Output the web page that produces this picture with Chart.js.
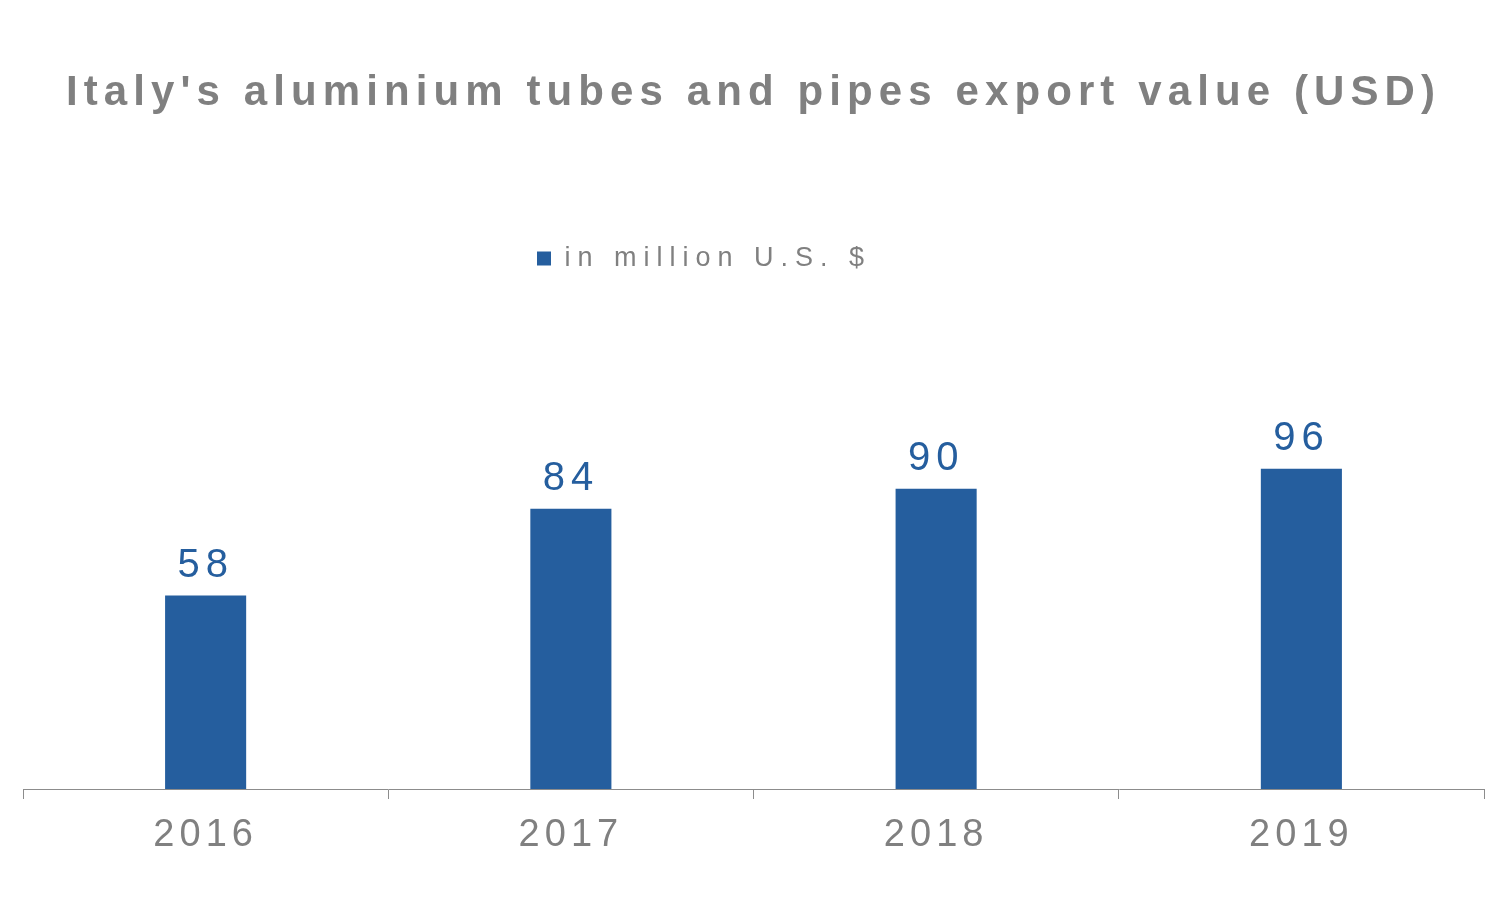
<!DOCTYPE html>
<html>
<head>
<meta charset="utf-8">
<title>Italy aluminium tubes and pipes export value</title>
<script src="https://cdn.jsdelivr.net/npm/chart.js@4/dist/chart.umd.min.js"></script>
<style>
    html, body { margin: 0; padding: 0; background: #ffffff; }
    #chartWrap { width: 1506px; height: 897px; position: relative; }
</style>
</head>
<body>
<div id="chartWrap"><canvas id="exportChart"></canvas></div>
<script>
// chart data
const years = ['2016', '2017', '2018', '2019'];
const exportValues = [58, 84, 90, 96];
const seriesLabel = 'in million U.S. $';
const chartTitle = "Italy's aluminium tubes and pipes export value (USD)";

const FONT = '"Liberation Sans", Arial, sans-serif';
const BAR_COLOR = '#255E9E';
const GREY_TEXT = '#808080';
const AXIS_COLOR = '#8C8C8C';

// wrap a draw method so its text gets some letter spacing
function spaced(obj, method, spacing) {
    if (!obj || obj['_spaced_' + method]) return;
    const orig = obj[method];
    obj[method] = function (...args) {
        const c = this.ctx;
        c.save();
        c.letterSpacing = spacing;
        orig.apply(this, args);
        c.restore();
    };
    obj['_spaced_' + method] = true;
}

const layoutTweaks = {
    id: 'layoutTweaks',
    afterLayout(chart) {
        // legend sits a bit left of centre in the original
        chart.legend.left = 527;
        spaced(chart.titleBlock, 'draw', '6.1px');
        spaced(chart.legend, 'draw', '7px');
        spaced(chart.scales.x, 'drawLabels', '5px');
    }
};

const valueLabels = {
    id: 'valueLabels',
    afterDatasetsDraw(chart) {
        const ctx = chart.ctx;
        const meta = chart.getDatasetMeta(0);
        const data = chart.data.datasets[0].data;
        ctx.save();
        ctx.font = '40px ' + FONT;
        ctx.fillStyle = BAR_COLOR;
        ctx.textAlign = 'center';
        ctx.textBaseline = 'alphabetic';
        ctx.letterSpacing = '6px';
        meta.data.forEach((bar, i) => {
            ctx.fillText(String(data[i]), bar.x, bar.y - 19);
        });
        ctx.restore();
    }
};

const ctx = document.getElementById('exportChart').getContext('2d');
const exportChart = new Chart(ctx, {
    type: 'bar',
    data: {
        labels: years,
        datasets: [{
            label: seriesLabel,
            data: exportValues,
            backgroundColor: BAR_COLOR,
            borderWidth: 0,
            categoryPercentage: 1,
            barPercentage: 0.222
        }]
    },
    options: {
        responsive: true,
        maintainAspectRatio: false,
        animation: false,
        devicePixelRatio: 1,
        layout: {
            padding: { left: 23, right: 22, top: 0, bottom: 0 }
        },
        plugins: {
            title: {
                display: true,
                text: chartTitle,
                color: GREY_TEXT,
                font: { family: FONT, size: 42, weight: 'bold' },
                padding: { top: 68.2, bottom: 116.4 }
            },
            legend: {
                display: true,
                position: 'top',
                align: 'start',
                labels: {
                    color: GREY_TEXT,
                    font: { family: FONT, size: 27 },
                    boxWidth: 14,
                    boxHeight: 14,
                    padding: 10
                }
            },
            tooltip: { enabled: false }
        },
        scales: {
            x: {
                offset: true,
                grid: {
                    display: true,
                    offset: true,
                    drawOnChartArea: false,
                    drawTicks: true,
                    tickLength: 10,
                    color: AXIS_COLOR,
                    lineWidth: 1
                },
                border: { display: true, color: AXIS_COLOR, width: 1 },
                ticks: {
                    color: GREY_TEXT,
                    font: { family: FONT, size: 38 },
                    padding: 14,
                    maxRotation: 0,
                    autoSkip: false
                },
                afterFit(scale) {
                    scale.height = 108;
                }
            },
            y: {
                display: false,
                min: 0,
                max: 152
            }
        }
    },
    plugins: [layoutTweaks, valueLabels]
});
</script>
</body>
</html>
